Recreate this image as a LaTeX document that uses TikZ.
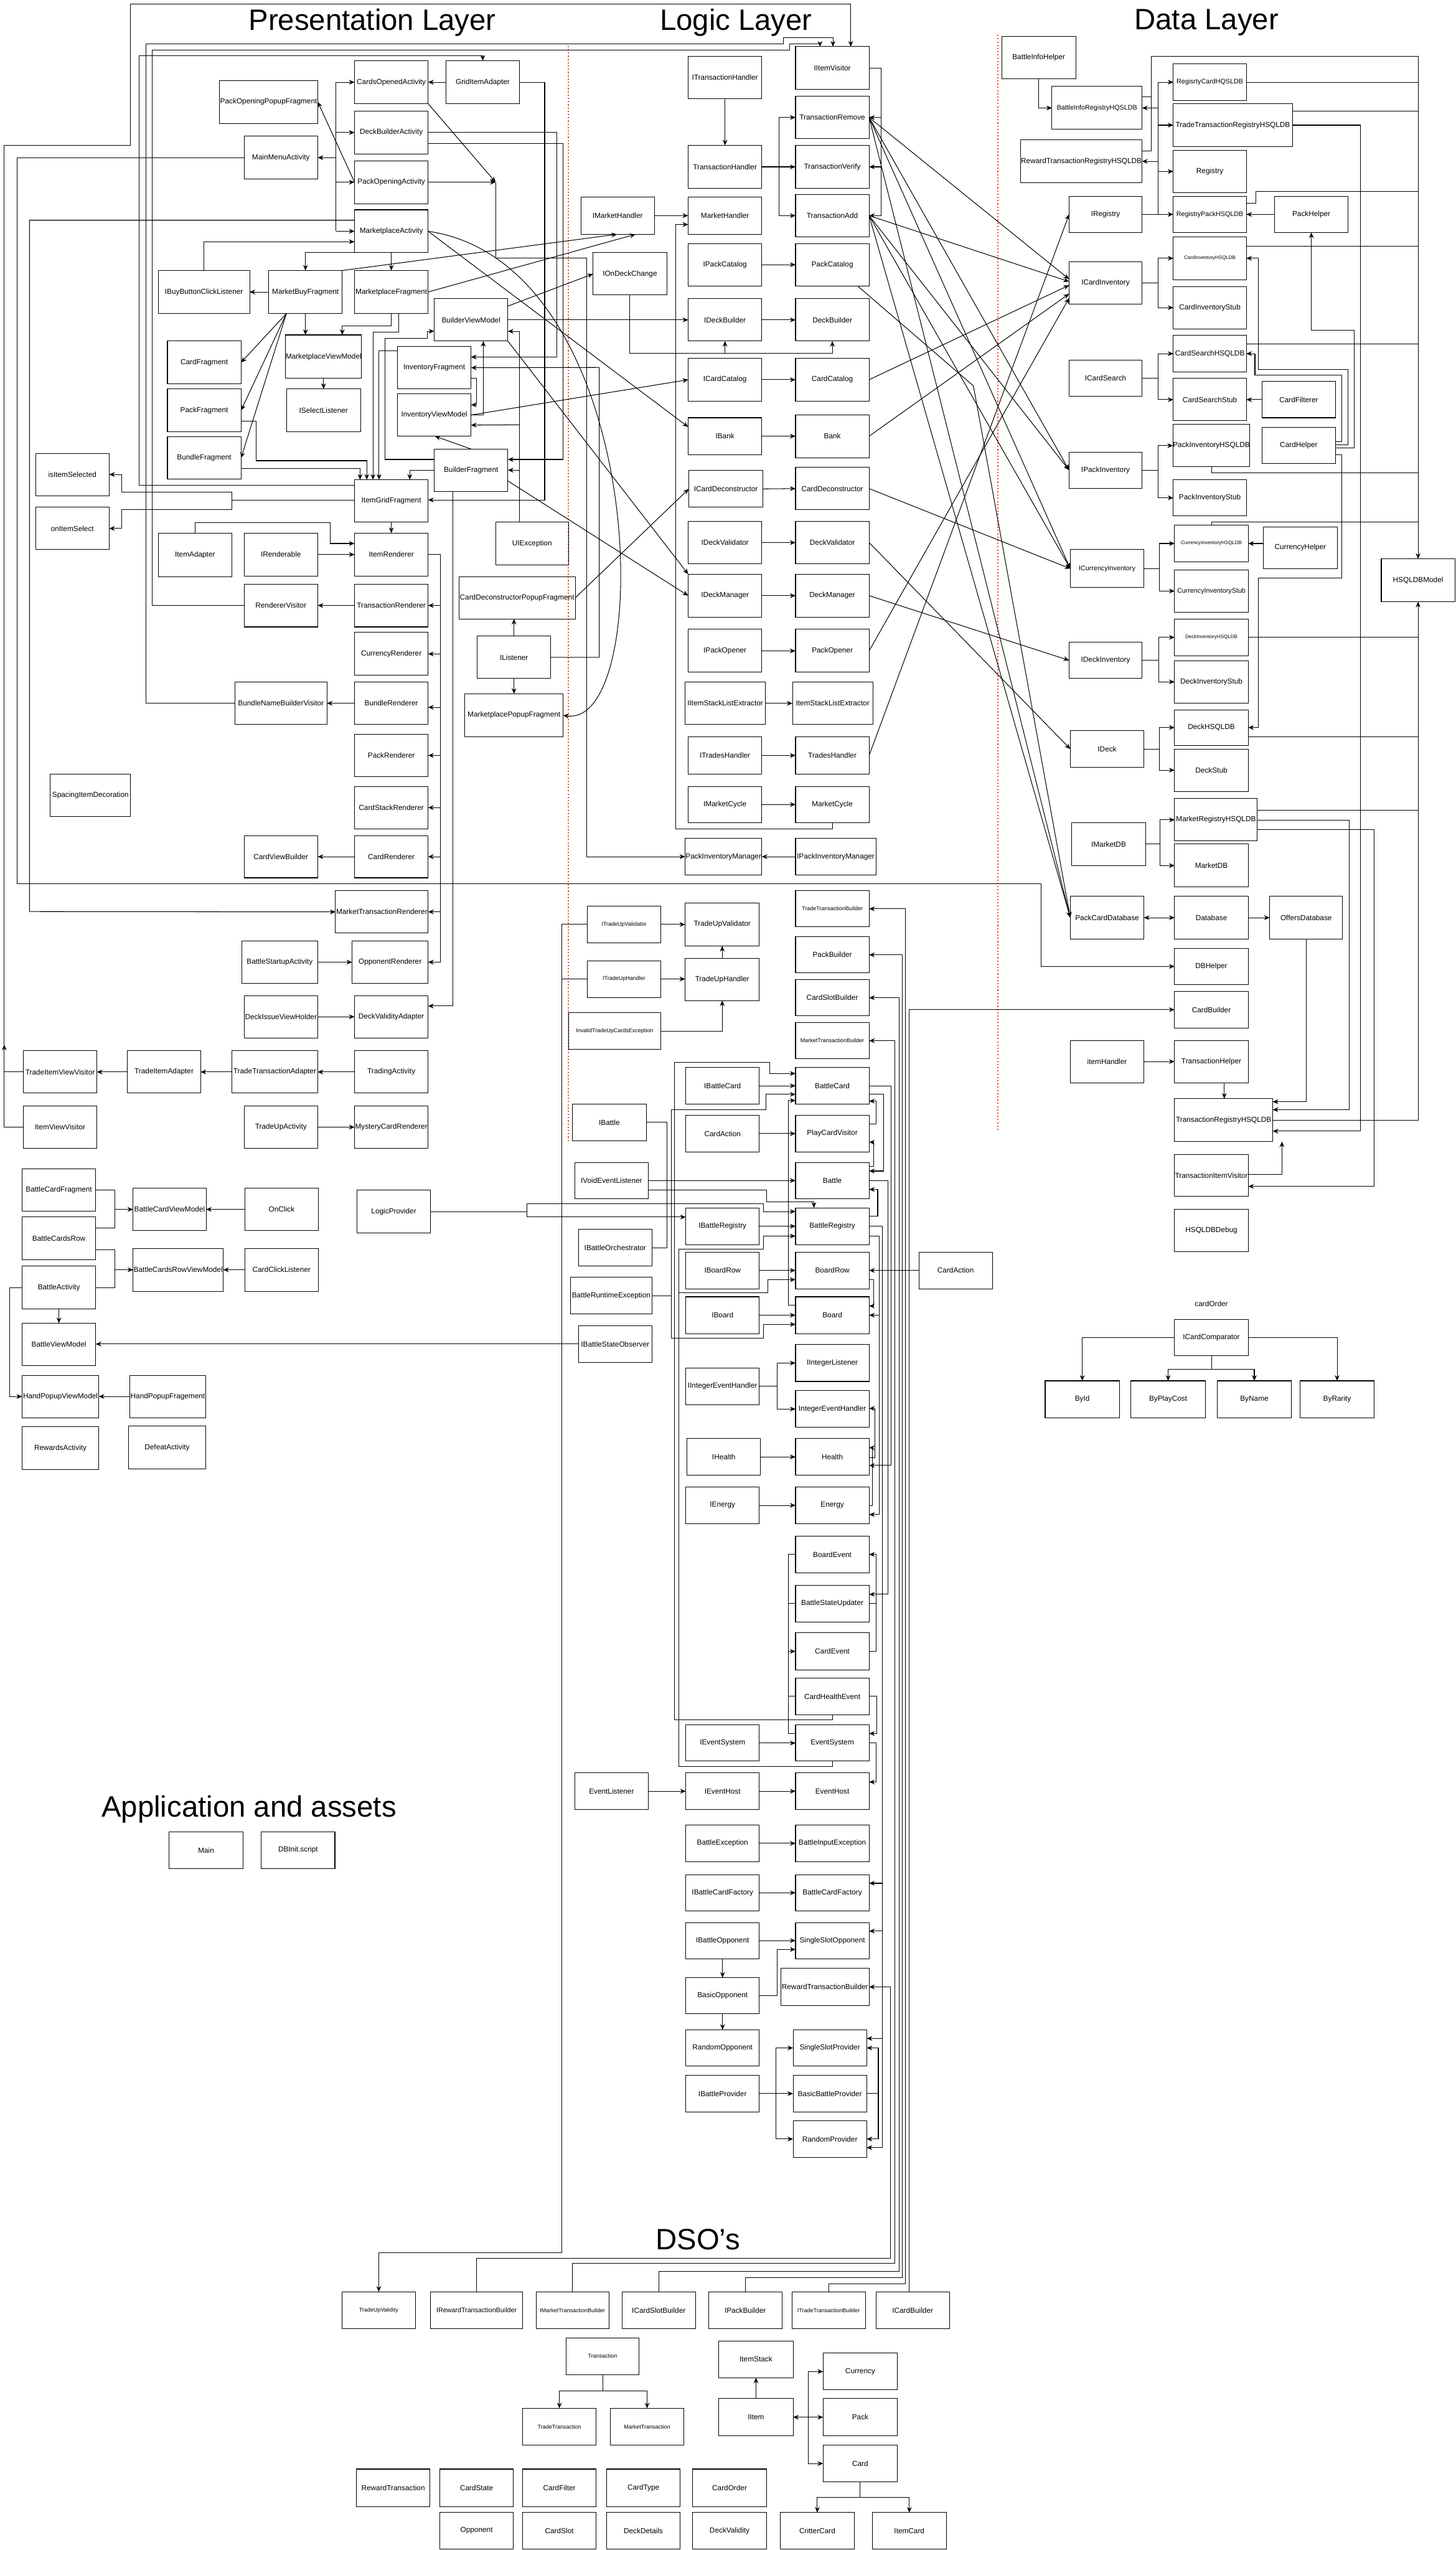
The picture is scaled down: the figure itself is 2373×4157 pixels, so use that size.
\documentclass[tikz,border=0pt]{standalone}
\usepackage{fontspec}
\setmainfont{Liberation Sans}
\usetikzlibrary{arrows.meta}
\definecolor{dotred}{RGB}{240,80,40}
\newcommand\fs{\fontsize{3.41pt}{4pt}\selectfont}
\newcommand\fsm{\fontsize{3.1pt}{3.6pt}\selectfont}
\newcommand\fss{\fontsize{2.6pt}{3pt}\selectfont}
\newcommand\fsx{\fontsize{2.3pt}{2.8pt}\selectfont}
\newcommand\fst{\fontsize{13.66pt}{16pt}\selectfont}
\newcommand\mybox[7][]{\node[box,#1,minimum width={(#5-#3)*0.01cm},minimum height={(#6-#4)*0.01cm}] (#2) at ({(#3+#5)/2},{(#4+#6)/2}) {#7};}
\newcommand\fork[4]{%
 \draw[ln] (#1.east) -- ++(#2,0) coordinate (fk);
 \draw[ln] (fk |- #3.west) -- (fk |- #4.west);
 \draw[ar] (fk |- #3.west) -- (#3.west);
 \draw[ar] (fk |- #4.west) -- (#4.west);}
\begin{document}
\begin{tikzpicture}[x=0.01cm,y=-0.01cm,
 box/.style={draw,line width=0.3pt,inner sep=0pt,outer sep=0pt,font=\fs,align=center},
 ln/.style={line width=0.3pt},
 ar/.style={ln,-{Stealth[length=2.6pt,width=2.2pt]}},
 ar2/.style={ln,{Stealth[length=2.6pt,width=2.2pt]}-{Stealth[length=2.6pt,width=2.2pt]}},
 rdot/.style={dotred,line width=0.6pt,dash pattern=on 0.6pt off 0.9pt}]
\fill[white] (0,0) rectangle (2373,4157);
\useasboundingbox (0,0) rectangle (2373,4157);

% titles
\node[font=\fst] (tPres) at (607,37) {Presentation Layer};
\node[font=\fst] (tLogic) at (1200,37) {Logic Layer};
\node[font=\fst] (tData) at (1967,37) {Data Layer};
\node[font=\fst] (tApp) at (406,2950) {Application and assets};
\node[font=\fst] (tDSO) at (1138,3651) {DSO's};

% separators
\draw[rdot] (927,75) -- (927,1860);
\draw[rdot] (1627,57) -- (1627,1844);

% ---------------- Presentation ----------------
\mybox{CardsOpenedActivity}{578}{99}{698}{169}{CardsOpenedActivity}
\mybox{GridItemAdapter}{727}{99}{847}{169}{GridItemAdapter}
\mybox{PackOpeningPopupFragment}{358}{131}{518}{201}{PackOpeningPopupFragment}
\mybox{DeckBuilderActivity}{578}{181}{698}{251}{DeckBuilderActivity}
\mybox{MainMenuActivity}{398}{222}{518}{292}{MainMenuActivity}
\mybox{PackOpeningActivity}{578}{262}{698}{332}{PackOpeningActivity}
\mybox{MarketplaceActivity}{578}{342}{698}{412}{MarketplaceActivity}
\mybox{IBuyButtonClickListener}{258}{441}{407}{511}{IBuyButtonClickListener}
\mybox{MarketBuyFragment}{438}{441}{558}{511}{MarketBuyFragment}
\mybox{MarketplaceFragment}{578}{441}{698}{511}{MarketplaceFragment}
\mybox{BuilderViewModel}{708}{487}{828}{556}{BuilderViewModel}
\mybox{CardFragment}{273}{556}{393}{626}{CardFragment}
\mybox{MarketplaceViewModel}{467}{546}{588}{617}{MarketplaceViewModel}
\mybox{InventoryFragment}{648}{565}{768}{634}{InventoryFragment}
\mybox{ISelectListener}{467}{634}{588}{704}{ISelectListener}
\mybox{PackFragment}{273}{634}{393}{704}{PackFragment}
\mybox{InventoryViewModel}{648}{642}{768}{711}{InventoryViewModel}
\mybox{BundleFragment}{273}{712}{393}{781}{BundleFragment}
\mybox{BuilderFragment}{708}{732}{828}{801}{BuilderFragment}
\mybox{isItemSelected}{58}{739}{178}{808}{isItemSelected}
\mybox{ItemGridFragment}{578}{782}{698}{851}{ItemGridFragment}
\mybox{onItemSelect}{58}{827}{178}{896}{onItemSelect}
\mybox{UIException}{808}{851}{927}{921}{UIException}
\mybox{ItemAdapter}{258}{869}{378}{940}{ItemAdapter}
\mybox{IRenderable}{398}{869}{518}{939}{IRenderable}
\mybox{ItemRenderer}{578}{869}{698}{939}{ItemRenderer}
\mybox{RendererVisitor}{398}{952}{518}{1022}{RendererVisitor}
\mybox{TransactionRenderer}{578}{952}{698}{1022}{TransactionRenderer}
\mybox{CurrencyRenderer}{578}{1031}{698}{1101}{CurrencyRenderer}
\mybox{CardDeconstructorPopupFragment}{748}{940}{938}{1009}{CardDeconstructorPopupFragment}
\mybox{IListener}{778}{1037}{898}{1106}{IListener}
\mybox{BundleNameBuilderVisitor}{383}{1112}{533}{1181}{BundleNameBuilderVisitor}
\mybox{BundleRenderer}{578}{1112}{698}{1181}{BundleRenderer}
\mybox{MarketplacePopupFragment}{758}{1131}{918}{1201}{MarketplacePopupFragment}
\mybox{PackRenderer}{578}{1197}{698}{1266}{PackRenderer}
\mybox{SpacingItemDecoration}{82}{1262}{213}{1331}{SpacingItemDecoration}
\mybox{CardStackRenderer}{578}{1282}{698}{1351}{CardStackRenderer}
\mybox{CardViewBuilder}{398}{1362}{518}{1431}{CardViewBuilder}
\mybox{CardRenderer}{578}{1362}{698}{1431}{CardRenderer}
\mybox{MarketTransactionRenderer}{547}{1452}{698}{1521}{MarketTransactionRenderer}
\mybox{BattleStartupActivity}{394}{1534}{518}{1603}{BattleStartupActivity}
\mybox{OpponentRenderer}{574}{1534}{698}{1603}{OpponentRenderer}
\mybox{DeckIssueViewHolder}{398}{1623}{518}{1692}{DeckIssueViewHolder}
\mybox{DeckValidityAdapter}{578}{1623}{698}{1692}{DeckValidityAdapter}
\mybox{TradeItemViewVisitor}{38}{1713}{158}{1782}{TradeItemViewVisitor}
\mybox{TradeItemAdapter}{208}{1713}{327}{1782}{TradeItemAdapter}
\mybox{TradeTransactionAdapter}{378}{1713}{518}{1782}{TradeTransactionAdapter}
\mybox{TradingActivity}{578}{1713}{698}{1782}{TradingActivity}
\mybox{ItemViewVisitor}{38}{1803}{158}{1872}{ItemViewVisitor}
\mybox{TradeUpActivity}{398}{1803}{518}{1872}{TradeUpActivity}
\mybox{MysteryCardRenderer}{578}{1803}{698}{1872}{MysteryCardRenderer}
\mybox{BattleCardFragment}{36}{1905}{156}{1974}{BattleCardFragment}
\mybox{BattleCardViewModel}{217}{1937}{336}{2006}{BattleCardViewModel}
\mybox{OnClick}{399}{1937}{519}{2006}{OnClick}
\mybox{LogicProvider}{582}{1940}{702}{2010}{LogicProvider}
\mybox{BattleCardsRow}{36}{1984}{156}{2054}{BattleCardsRow}
\mybox{BattleCardsRowViewModel}{217}{2035}{364}{2105}{BattleCardsRowViewModel}
\mybox{CardClickListener}{399}{2035}{519}{2105}{CardClickListener}
\mybox{BattleActivity}{36}{2064}{156}{2134}{BattleActivity}
\mybox{BattleViewModel}{36}{2157}{156}{2226}{BattleViewModel}
\mybox{HandPopupViewModel}{36}{2242}{161}{2311}{HandPopupViewModel}
\mybox{HandPopupFragement}{212}{2242}{335}{2311}{HandPopupFragement}
\mybox{RewardsActivity}{36}{2326}{161}{2396}{RewardsActivity}
\mybox{DefeatActivity}{210}{2325}{335}{2395}{DefeatActivity}
\mybox{Main}{276}{2986}{396}{3046}{Main}
\mybox{DBInit}{426}{2986}{546}{3046}{DBInit.script}

% ---------------- Logic ----------------
\mybox{IItemVisitor}{1297}{76}{1417}{146}{IItemVisitor}
\mybox{ITransactionHandler}{1122}{92}{1242}{161}{ITransactionHandler}
\mybox{TransactionRemove}{1297}{157}{1417}{226}{TransactionRemove}
\mybox{TransactionHandler}{1122}{237}{1242}{307}{TransactionHandler}
\mybox{TransactionVerify}{1297}{237}{1417}{307}{TransactionVerify}
\mybox{IMarketHandler}{947}{321}{1067}{382}{IMarketHandler}
\mybox{MarketHandler}{1122}{321}{1242}{382}{MarketHandler}
\mybox{TransactionAdd}{1297}{317}{1417}{386}{TransactionAdd}
\mybox{IOnDeckChange}{967}{412}{1087}{481}{IOnDeckChange}
\mybox{IPackCatalog}{1122}{397}{1242}{466}{IPackCatalog}
\mybox{PackCatalog}{1297}{397}{1417}{466}{PackCatalog}
\mybox{IDeckBuilder}{1122}{487}{1242}{556}{IDeckBuilder}
\mybox{DeckBuilder}{1297}{487}{1417}{556}{DeckBuilder}
\mybox{ICardCatalog}{1122}{584}{1242}{654}{ICardCatalog}
\mybox{CardCatalog}{1297}{584}{1417}{654}{CardCatalog}
\mybox{IBank}{1122}{681}{1242}{741}{IBank}
\mybox{Bank}{1297}{676}{1417}{746}{Bank}
\mybox{ICardDeconstructor}{1123}{767}{1244}{827}{ICardDeconstructor}
\mybox{CardDeconstructor}{1297}{762}{1417}{831}{CardDeconstructor}
\mybox{IDeckValidator}{1122}{850}{1242}{919}{IDeckValidator}
\mybox{DeckValidator}{1297}{850}{1417}{919}{DeckValidator}
\mybox{IDeckManager}{1122}{936}{1242}{1006}{IDeckManager}
\mybox{DeckManager}{1297}{936}{1417}{1006}{DeckManager}
\mybox{IPackOpener}{1122}{1026}{1242}{1096}{IPackOpener}
\mybox{PackOpener}{1297}{1026}{1417}{1096}{PackOpener}
\mybox{IItemStackListExtractor}{1117}{1112}{1248}{1181}{IItemStackListExtractor}
\mybox{ItemStackListExtractor}{1292}{1112}{1423}{1181}{ItemStackListExtractor}
\mybox{ITradesHandler}{1122}{1201}{1242}{1262}{ITradesHandler}
\mybox{TradesHandler}{1297}{1201}{1417}{1262}{TradesHandler}
\mybox{IMarketCycle}{1122}{1282}{1242}{1341}{IMarketCycle}
\mybox{MarketCycle}{1297}{1282}{1417}{1341}{MarketCycle}
\mybox{PackInventoryManager}{1117}{1367}{1242}{1426}{PackInventoryManager}
\mybox{IPackInventoryManager}{1297}{1367}{1428}{1426}{IPackInventoryManager}
\mybox[font=\fss]{ITradeUpValidator}{958}{1477}{1077}{1537}{ITradeUpValidator}
\mybox{TradeUpValidator}{1117}{1472}{1238}{1542}{TradeUpValidator}
\mybox[font=\fss]{TradeTransactionBuilder}{1297}{1452}{1417}{1511}{TradeTransactionBuilder}
\mybox{PackBuilder}{1297}{1527}{1417}{1586}{PackBuilder}
\mybox[font=\fss]{ITradeUpHandler}{958}{1566}{1077}{1626}{ITradeUpHandler}
\mybox{TradeUpHandler}{1117}{1562}{1238}{1631}{TradeUpHandler}
\mybox{CardSlotBuilder}{1297}{1597}{1417}{1656}{CardSlotBuilder}
\mybox[font=\fss]{InvalidTradeUpCardsException}{927}{1651}{1077}{1711}{InvalidTradeUpCardsException}
\mybox[font=\fss]{MarketTransactionBuilder}{1297}{1667}{1417}{1726}{MarketTransactionBuilder}
\mybox{IBattleCard}{1118}{1740}{1238}{1800}{IBattleCard}
\mybox{BattleCard}{1297}{1740}{1417}{1800}{BattleCard}
\mybox{IBattle}{933}{1800}{1054}{1860}{IBattle}
\mybox{CardActionA}{1118}{1818}{1238}{1878}{CardAction}
\mybox{PlayCardVisitor}{1297}{1818}{1417}{1878}{PlayCardVisitor}
\mybox{IVoidEventListener}{937}{1895}{1057}{1954}{IVoidEventListener}
\mybox{Battle}{1297}{1895}{1417}{1954}{Battle}
\mybox{IBattleRegistry}{1118}{1969}{1238}{2029}{IBattleRegistry}
\mybox{BattleRegistry}{1297}{1969}{1417}{2029}{BattleRegistry}
\mybox{IBattleOrchestrator}{943}{2004}{1063}{2064}{IBattleOrchestrator}
\mybox{IBoardRow}{1118}{2041}{1238}{2101}{IBoardRow}
\mybox{BoardRow}{1297}{2041}{1417}{2101}{BoardRow}
\mybox{CardActionB}{1498}{2041}{1618}{2101}{CardAction}
\mybox{BattleRuntimeException}{930}{2082}{1063}{2142}{BattleRuntimeException}
\mybox{IBoard}{1118}{2114}{1238}{2174}{IBoard}
\mybox{Board}{1297}{2114}{1417}{2174}{Board}
\mybox{IBattleStateObserver}{943}{2161}{1063}{2221}{IBattleStateObserver}
\mybox{IIntegerListener}{1297}{2192}{1417}{2252}{IIntegerListener}
\mybox{IIntegerEventHandler}{1118}{2230}{1238}{2290}{IIntegerEventHandler}
\mybox{IntegerEventHandler}{1297}{2267}{1417}{2327}{IntegerEventHandler}
\mybox{IHealth}{1120}{2345}{1240}{2405}{IHealth}
\mybox{Health}{1297}{2345}{1417}{2405}{Health}
\mybox{IEnergy}{1118}{2424}{1238}{2484}{IEnergy}
\mybox{Energy}{1297}{2424}{1417}{2484}{Energy}
\mybox{BoardEvent}{1297}{2504}{1417}{2564}{BoardEvent}
\mybox{BattleStateUpdater}{1297}{2584}{1417}{2644}{BattleStateUpdater}
\mybox{CardEvent}{1297}{2662}{1417}{2722}{CardEvent}
\mybox{CardHealthEvent}{1297}{2736}{1417}{2795}{CardHealthEvent}
\mybox{IEventSystem}{1118}{2812}{1238}{2871}{IEventSystem}
\mybox{EventSystem}{1297}{2812}{1417}{2871}{EventSystem}
\mybox{EventListener}{937}{2890}{1057}{2950}{EventListener}
\mybox{IEventHost}{1118}{2890}{1238}{2950}{IEventHost}
\mybox{EventHost}{1297}{2890}{1417}{2950}{EventHost}
\mybox{BattleException}{1118}{2975}{1238}{3035}{BattleException}
\mybox{BattleInputException}{1297}{2975}{1417}{3035}{BattleInputException}
\mybox{IBattleCardFactory}{1118}{3056}{1238}{3115}{IBattleCardFactory}
\mybox{BattleCardFactory}{1297}{3056}{1417}{3115}{BattleCardFactory}
\mybox{IBattleOpponent}{1118}{3134}{1238}{3193}{IBattleOpponent}
\mybox{SingleSlotOpponent}{1297}{3134}{1417}{3193}{SingleSlotOpponent}
\mybox{BasicOpponent}{1118}{3224}{1238}{3283}{BasicOpponent}
\mybox{RewardTransactionBuilder}{1273}{3209}{1417}{3269}{RewardTransactionBuilder}
\mybox{RandomOpponent}{1118}{3309}{1238}{3368}{RandomOpponent}
\mybox{SingleSlotProvider}{1293}{3309}{1413}{3368}{SingleSlotProvider}
\mybox{IBattleProvider}{1118}{3383}{1238}{3443}{IBattleProvider}
\mybox{BasicBattleProvider}{1293}{3383}{1413}{3443}{BasicBattleProvider}
\mybox{RandomProvider}{1293}{3457}{1413}{3517}{RandomProvider}

% ---------------- Data ----------------
\mybox{BattleInfoHelper}{1633}{59}{1754}{128}{BattleInfoHelper}
\mybox[font=\fsm]{RegisrtyCardHQSLDB}{1913}{104}{2032}{164}{RegisrtyCardHQSLDB}
\mybox[font=\fsm]{BattleInfoRegistryHQSLDB}{1715}{141}{1862}{211}{BattleInfoRegistryHQSLDB}
\mybox{TradeTransactionRegistryHSQLDB}{1913}{169}{2107}{239}{TradeTransactionRegistryHSQLDB}
\mybox{RewardTransactionRegistryHSQLDB}{1664}{228}{1862}{298}{RewardTransactionRegistryHSQLDB}
\mybox{Registry}{1913}{245}{2032}{314}{Registry}
\mybox{IRegistry}{1743}{320}{1862}{379}{IRegistry}
\mybox[font=\fsm]{RegistryPackHSQLDB}{1913}{320}{2032}{379}{RegistryPackHSQLDB}
\mybox{PackHelper}{2078}{320}{2198}{379}{PackHelper}
\mybox[font=\fsx]{CardInventoryHSQLDB}{1913}{386}{2032}{456}{CardInventoryHSQLDB}
\mybox{ICardInventory}{1743}{427}{1862}{496}{ICardInventory}
\mybox{CardInventoryStub}{1913}{467}{2032}{536}{CardInventoryStub}
\mybox{CardSearchHSQLDB}{1913}{547}{2032}{606}{CardSearchHSQLDB}
\mybox{ICardSearch}{1743}{587}{1862}{646}{ICardSearch}
\mybox{CardSearchStub}{1913}{617}{2032}{686}{CardSearchStub}
\mybox{CardFilterer}{2058}{622}{2177}{681}{CardFilterer}
\mybox{PackInventoryHSQLDB}{1913}{692}{2037}{761}{PackInventoryHSQLDB}
\mybox{CardHelper}{2058}{697}{2177}{756}{CardHelper}
\mybox{IPackInventory}{1743}{737}{1862}{796}{IPackInventory}
\mybox{PackInventoryStub}{1913}{782}{2032}{841}{PackInventoryStub}
\mybox[font=\fsx]{CurrencyInventoryHSQLDB}{1915}{856}{2035}{916}{CurrencyInventoryHSQLDB}
\mybox{CurrencyHelper}{2060}{859}{2180}{927}{CurrencyHelper}
\mybox[font=\fsm]{ICurrencyInventory}{1745}{896}{1865}{958}{ICurrencyInventory}
\mybox[font=\fsm]{CurrencyInventoryStub}{1915}{929}{2035}{998}{CurrencyInventoryStub}
\mybox{HSQLDBModel}{2252}{911}{2372}{981}{HSQLDBModel}
\mybox[font=\fsx]{DeckInventoryHSQLDB}{1915}{1009}{2035}{1069}{DeckInventoryHSQLDB}
\mybox{IDeckInventory}{1743}{1047}{1862}{1106}{IDeckInventory}
\mybox{DeckInventoryStub}{1915}{1077}{2035}{1146}{DeckInventoryStub}
\mybox{DeckHSQLDB}{1915}{1157}{2035}{1215}{DeckHSQLDB}
\mybox{IDeck}{1745}{1191}{1865}{1251}{IDeck}
\mybox{DeckStub}{1915}{1221}{2035}{1290}{DeckStub}
\mybox{MarketRegistryHSQLDB}{1915}{1302}{2050}{1371}{MarketRegistryHSQLDB}
\mybox{IMarketDB}{1747}{1341}{1868}{1411}{IMarketDB}
\mybox{MarketDB}{1915}{1376}{2035}{1446}{MarketDB}
\mybox{PackCardDatabase}{1745}{1461}{1865}{1531}{PackCardDatabase}
\mybox{Database}{1915}{1461}{2035}{1531}{Database}
\mybox{OffersDatabase}{2070}{1461}{2189}{1531}{OffersDatabase}
\mybox{DBHelper}{1915}{1546}{2035}{1605}{DBHelper}
\mybox{CardBuilder}{1915}{1616}{2035}{1676}{CardBuilder}
\mybox{itemHandler}{1745}{1696}{1865}{1765}{itemHandler}
\mybox{TransactionHelper}{1915}{1696}{2035}{1765}{TransactionHelper}
\mybox{TransactionRegistryHSQLDB}{1915}{1791}{2075}{1861}{TransactionRegistryHSQLDB}
\mybox{TransactionItemVisitor}{1915}{1882}{2035}{1950}{TransactionItemVisitor}
\mybox{HSQLDBDebug}{1915}{1971}{2035}{2040}{HSQLDBDebug}
\node[font=\fs] (cardOrderLbl) at (1975,2125) {cardOrder};
\mybox{ICardComparator}{1915}{2151}{2035}{2210}{ICardComparator}
\mybox{ById}{1704}{2251}{1825}{2311}{ById}
\mybox{ByPlayCost}{1844}{2251}{1965}{2311}{ByPlayCost}
\mybox{ByName}{1985}{2251}{2105}{2311}{ByName}
\mybox{ByRarity}{2120}{2251}{2240}{2311}{ByRarity}

% ---------------- DSO ----------------
\mybox[font=\fss]{TradeUpValidity}{558}{3736}{677}{3796}{TradeUpValidity}
\mybox[font=\fsm]{IRewardTransactionBuilder}{702}{3736}{852}{3796}{IRewardTransactionBuilder}
\mybox[font=\fss]{IMarketTransactionBuilder}{874}{3736}{993}{3796}{IMarketTransactionBuilder}
\mybox{ICardSlotBuilder}{1014}{3736}{1134}{3796}{ICardSlotBuilder}
\mybox{IPackBuilder}{1155}{3736}{1275}{3796}{IPackBuilder}
\mybox[font=\fss]{ITradeTransactionBuilder}{1291}{3736}{1411}{3796}{ITradeTransactionBuilder}
\mybox{ICardBuilder}{1428}{3736}{1548}{3796}{ICardBuilder}
\mybox[font=\fss]{Transaction}{923}{3811}{1042}{3871}{Transaction}
\mybox{ItemStack}{1172}{3816}{1293}{3876}{ItemStack}
\mybox{Currency}{1342}{3836}{1463}{3896}{Currency}
\mybox{IItem}{1172}{3910}{1293}{3971}{IItem}
\mybox{Pack}{1342}{3910}{1463}{3971}{Pack}
\mybox[font=\fss]{TradeTransaction}{852}{3926}{972}{3986}{TradeTransaction}
\mybox[font=\fss]{MarketTransaction}{995}{3926}{1115}{3986}{MarketTransaction}
\mybox{Card}{1342}{3986}{1463}{4046}{Card}
\mybox{RewardTransaction}{581}{4025}{701}{4086}{RewardTransaction}
\mybox{CardState}{717}{4025}{837}{4086}{CardState}
\mybox{CardFilter}{852}{4025}{972}{4086}{CardFilter}
\mybox{CardType}{989}{4025}{1109}{4086}{CardType}
\mybox{CardOrder}{1129}{4025}{1250}{4086}{CardOrder}
\mybox{Opponent}{717}{4096}{837}{4155}{Opponent}
\mybox{CardSlot}{852}{4096}{972}{4155}{CardSlot}
\mybox{DeckDetails}{989}{4096}{1109}{4155}{DeckDetails}
\mybox{DeckValidity}{1129}{4096}{1250}{4155}{DeckValidity}
\mybox{CritterCard}{1272}{4096}{1393}{4155}{CritterCard}
\mybox{ItemCard}{1422}{4096}{1543}{4155}{ItemCard}

% ================= connectors: presentation =================
\draw[ar] (ItemViewVisitor.west) -| (7,237) -| (213,7) -| (IItemVisitor.north -| 1387,0);
\draw[ln] (TradeItemViewVisitor.west) -- (TradeItemViewVisitor.west -| 7,0);
\draw[ar] (7,1745) -- (7,1703);
\draw[ar] (BundleNameBuilderVisitor.west) -| (238,72) -- (1277,72) -- (1277,61) -| (IItemVisitor.north -| 1358,0);
\draw[ar] (RendererVisitor.west) -| (248,82) -- (1287,82) -- (1287,72) -| (IItemVisitor.north -| 1337,0);
\draw[ar] (ItemGridFragment.west |- 0,791) -| (227,91) -| (GridItemAdapter.north);
\draw[ar] (GridItemAdapter.west) -- (CardsOpenedActivity.east);
\draw[ar] (GridItemAdapter.east) -| (888,815) -- (ItemGridFragment.east |- 0,815);
\draw[ln] (CardsOpenedActivity.west -| 548,0) -- (MarketplaceActivity.west -| 548,0);
\draw[ar] (CardsOpenedActivity.west -| 548,0) -- (CardsOpenedActivity.west);
\draw[ar] (DeckBuilderActivity.west -| 548,0) -- (DeckBuilderActivity.west);
\draw[ar] (PackOpeningActivity.west -| 548,0) -- (PackOpeningActivity.west);
\draw[ar] (MarketplaceActivity.west -| 548,0) -- (MarketplaceActivity.west);
\draw[ar] (MainMenuActivity.east -| 548,0) -- (MainMenuActivity.east);
\draw[ar] (MainMenuActivity.west) -| (28,1441) -- (1697,1441) |- (DBHelper.west);
\draw[ar] (MarketplaceActivity.west |- 0,359) -| (48,1486) -- (MarketTransactionRenderer.west);
\draw[ar] (PackOpeningActivity.west) -- (PackOpeningPopupFragment.east);
\draw[ar] (CardsOpenedActivity.south east) -- (808,297);
\draw[ar] (PackOpeningActivity.east) -- (808,297);
\draw[ar] (808,297) -- (808,421) -- (957,421) |- (PackInventoryManager.west);
\draw[ar] (DeckBuilderActivity.east) -| (908,582) -- (InventoryFragment.east |- 0,582);
\draw[ar] (DeckBuilderActivity.east |- 0,234) -| (918,749) -- (BuilderFragment.east |- 0,749);
\draw[ar] (IBuyButtonClickListener.north) |- (MarketplaceActivity.west |- 0,394);
\draw[ar] (MarketplaceActivity.south) -| (MarketBuyFragment.north);
\draw[ar] (MarketplaceActivity.south) -- (MarketplaceFragment.north);
\draw[ar] (MarketBuyFragment.west) -- (IBuyButtonClickListener.east);
\draw[ar] (MarketBuyFragment.south) -- (MarketBuyFragment.south |- MarketplaceViewModel.north);
\draw[ar] (MarketplaceFragment.south) -- (638,531) -| (MarketplaceViewModel.north -| 558,0);
\draw[ar] (MarketplaceFragment.south -| 650,0) -- (650,541) -| (ItemGridFragment.north -| 608,0);
\draw[ar] (MarketBuyFragment.south -| 467,0) -- (CardFragment.east);
\draw[ar] (MarketBuyFragment.south -| 467,0) -- (PackFragment.east);
\draw[ar] (MarketBuyFragment.south -| 467,0) -- (BundleFragment.east);
\draw[ar] (MarketplaceViewModel.south) -- (ISelectListener.north);
\draw[ar] (PackFragment.east |- 0,687) -| (418,751) -| (ItemGridFragment.north -| 598,0);
\draw[ar] (BundleFragment.east |- 0,764) -| (ItemGridFragment.north -| 587,0);
\draw[ar] (InventoryFragment.west |- 0,572) -| (ItemGridFragment.north -| 618,0);
\draw[ar] (BuilderFragment.west |- 0,749) -| (628,552) -| (697,540) -- (BuilderViewModel.west |- 0,540);
\draw[ar] (BuilderFragment.west |- 0,767) -| (ItemGridFragment.north -| 668,0);
\draw[ar] (InventoryFragment.east |- 0,617) -| (777,660) -- (InventoryViewModel.east |- 0,660);
\draw[ar] (InventoryViewModel.east |- 0,676) -| (BuilderViewModel.south -| 788,0);
\draw[ar] (BuilderFragment.north) -- (InventoryViewModel.south -| 709,0);
\draw[ar] (UIException.north -| 847,0) |- (BuilderViewModel.east |- 0,540);
\draw[ar] (InventoryViewModel.east -| 847,0) ++(0,16) -- (InventoryViewModel.east |- 0,693);
\draw[ar] (BuilderFragment.east -| 847,0) -- (BuilderFragment.east);
\draw[ar] (IListener.east) -| (977,599) -- (InventoryFragment.east);
\draw[ar] (BuilderViewModel.east) -- (IDeckBuilder.west);
\draw[ar] (BuilderViewModel.east |- 0,499) -- (IOnDeckChange.west);
\draw[ar] (MarketBuyFragment.north east) -- (IMarketHandler.south -| 1006,0);
\draw[ar] (MarketplaceFragment.east) -- (IMarketHandler.south -| 1036,0);
\draw[ar] (InventoryViewModel.east) -- (ICardCatalog.west);
\draw[ar] (MarketplaceActivity.east) -- (IBank.west |- 0,696);
\draw[ar] (BuilderViewModel.south east) -- (IDeckManager.north west);
\draw[ar] (BuilderFragment.east |- 0,784) -- (IDeckManager.west);
\draw[ar] (CardDeconstructorPopupFragment.east) -- (ICardDeconstructor.west);
\draw[ar] (MarketplaceActivity.east) .. controls (1060,430) and (1070,1190) .. (MarketplacePopupFragment.east);
\draw[ar] (IRenderable.east) -- (ItemRenderer.west);
\draw[ar] (ItemAdapter.north) |- (538,852) |- (ItemRenderer.west |- 0,886);
\draw[ar] (ItemGridFragment.south) -- (ItemRenderer.north);
\draw[ln] (ItemGridFragment.west |- 0,815) -- (378,815);
\draw[ar] (378,815) -- (378,802) -| (198,773.5) -- (isItemSelected.east);
\draw[ar] (378,815) -- (378,831) -| (198,861.5) -- (onItemSelect.east);
\draw[ln] (ItemRenderer.east) -| (718,1569);
\draw[ar] (TransactionRenderer.east -| 718,0) -- (TransactionRenderer.east);
\draw[ar] (CurrencyRenderer.east -| 718,0) -- (CurrencyRenderer.east);
\draw[ar] (718,1153) -- (BundleRenderer.east |- 0,1153);
\draw[ar] (PackRenderer.east -| 718,0) -- (PackRenderer.east);
\draw[ar] (CardStackRenderer.east -| 718,0) -- (CardStackRenderer.east);
\draw[ar] (CardRenderer.east -| 718,0) -- (CardRenderer.east);
\draw[ar] (MarketTransactionRenderer.east -| 718,0) -- (MarketTransactionRenderer.east);
\draw[ar] (OpponentRenderer.east -| 718,0) -- (OpponentRenderer.east);
\draw[ar] (BuilderFragment.south -| 738,0) |- (DeckValidityAdapter.east |- 0,1640);
\draw[ar] (TransactionRenderer.west) -- (RendererVisitor.east);
\draw[ar] (BundleRenderer.west) -- (BundleNameBuilderVisitor.east);
\draw[ar] (CardRenderer.west) -- (CardViewBuilder.east);
\draw[ar] (IListener.north) -- (CardDeconstructorPopupFragment.south -| IListener.north);
\draw[ar] (IListener.south) -- (MarketplacePopupFragment.north -| IListener.south);
\draw[ar] (BattleStartupActivity.east) -- (OpponentRenderer.west);
\draw[ar] (DeckIssueViewHolder.east) -- (DeckValidityAdapter.west);
\draw[ar] (TradingActivity.west) -- (TradeTransactionAdapter.east);
\draw[ar] (TradeTransactionAdapter.west) -- (TradeItemAdapter.east);
\draw[ar] (TradeItemAdapter.west) -- (TradeItemViewVisitor.east);
\draw[ar] (TradeUpActivity.east) -- (MysteryCardRenderer.west);
\draw[ln] (BattleCardFragment.east) -| (187,2002) -- (BattleCardsRow.east |- 0,2002);
\draw[ar] (BattleCardViewModel.west -| 187,0) -- (BattleCardViewModel.west);
\draw[ln] (BattleCardsRow.east |- 0,2037) -| (187,2099) -- (BattleActivity.east);
\draw[ar] (BattleCardsRowViewModel.west -| 187,0) -- (BattleCardsRowViewModel.west);
\draw[ar] (OnClick.west) -- (BattleCardViewModel.east);
\draw[ar] (CardClickListener.west) -- (BattleCardsRowViewModel.east);
\draw[ar] (BattleActivity.south) -- (BattleViewModel.north);
\draw[ar] (BattleActivity.west) -| (16,2276.5) -- (HandPopupViewModel.west);
\draw[ar] (HandPopupFragement.west) -- (HandPopupViewModel.east);
\draw[ar] (IBattleStateObserver.west) -- (BattleViewModel.east |- IBattleStateObserver.west);

% ================= connectors: logic =================
\draw[ln] (IOnDeckChange.south) |- (DeckBuilder.south |- 0,576);
\draw[ar] (IDeckBuilder.south |- 0,576) -- (IDeckBuilder.south);
\draw[ar] (DeckBuilder.south |- 0,576) -- (DeckBuilder.south);
\draw[ar] (MarketCycle.south) -- ++(0,10) -| (1102,366) -- (MarketHandler.west |- 0,366);
\draw[ar] (ITransactionHandler.south) -- (TransactionHandler.north);
\draw[ar] (TransactionHandler.east) -- (TransactionVerify.west);
\draw[ln] (TransactionRemove.west -| 1270,0) -- (TransactionAdd.west -| 1270,0);
\draw[ar] (TransactionRemove.west -| 1270,0) -- (TransactionRemove.west);
\draw[ar] (TransactionAdd.west -| 1270,0) -- (TransactionAdd.west);
\draw[ln] (IItemVisitor.east) -| (TransactionAdd.east -| 1437,0);
\draw[ar] (TransactionRemove.east -| 1437,0) -- (TransactionRemove.east);
\draw[ar] (TransactionVerify.east -| 1437,0) -- (TransactionVerify.east);
\draw[ar] (TransactionAdd.east -| 1437,0) -- (TransactionAdd.east);
\draw[ar] (IMarketHandler.east) -- (MarketHandler.west);
\draw[ar] (IPackCatalog.east) -- (PackCatalog.west);
\draw[ar] (IDeckBuilder.east) -- (DeckBuilder.west);
\draw[ar] (ICardCatalog.east) -- (CardCatalog.west);
\draw[ar] (IBank.east) -- (Bank.west);
\draw[ar] (ICardDeconstructor.east) -- (CardDeconstructor.west);
\draw[ar] (IDeckValidator.east) -- (DeckValidator.west);
\draw[ar] (IDeckManager.east) -- (DeckManager.west);
\draw[ar] (IPackOpener.east) -- (PackOpener.west);
\draw[ar] (IItemStackListExtractor.east) -- (ItemStackListExtractor.west);
\draw[ar] (ITradesHandler.east) -- (TradesHandler.west);
\draw[ar] (IMarketCycle.east) -- (MarketCycle.west);
\draw[ar] (IPackInventoryManager.west) -- (PackInventoryManager.east);
% logic -> data
\draw[ar] (TransactionRemove.east) -- (ICardInventory.west |- 0,455);
\draw[ar] (TransactionRemove.east) -- (IPackInventory.west);
\draw[ar] (TransactionRemove.east) -- (ICurrencyInventory.west);
\draw[ar] (TransactionRemove.east) -- (PackCardDatabase.west);
\draw[ar] (TransactionAdd.east) -- (ICardInventory.west |- 0,459);
\draw[ar] (TransactionAdd.east) -- (IPackInventory.west);
\draw[ar] (TransactionAdd.east) -- (ICurrencyInventory.west);
\draw[ar] (TransactionAdd.east) -- (PackCardDatabase.west);
\draw[ar] (PackCatalog.south -| 1398,0) -- (1587,629) -- (PackCardDatabase.west);
\draw[ar] (CardCatalog.east) -- (ICardInventory.west |- 0,465);
\draw[ar] (Bank.east) -- (ICardInventory.west |- 0,479);
\draw[ar] (PackOpener.east) -- (ICardInventory.west |- 0,486);
\draw[ar] (TradesHandler.east) -- (IRegistry.west);
\draw[ar] (CardDeconstructor.east) -- (ICurrencyInventory.west);
\draw[ar] (DeckManager.east) -- (IDeckInventory.west);
\draw[ar] (DeckValidator.east) -- (IDeck.west);
% trade-up
\draw[ar] (ITradeUpValidator.east) -- (TradeUpValidator.west |- ITradeUpValidator.east);
\draw[ar] (ITradeUpHandler.east) -- (TradeUpHandler.west |- ITradeUpHandler.east);
\draw[ar] (TradeUpHandler.north) -- (TradeUpValidator.south);
\draw[ar] (InvalidTradeUpCardsException.east) -| (TradeUpHandler.south);
\draw[ar] (ITradeUpValidator.west) -| (916,3672) -| (TradeUpValidity.north);
\draw[ln] (ITradeUpHandler.west) -- (ITradeUpHandler.west -| 916,0);
% DSO builders
\draw[ar] (IRewardTransactionBuilder.north) |- (1452,3681) |- (RewardTransactionBuilder.east);
\draw[ar] (IMarketTransactionBuilder.north) |- (1459,3690) |- (MarketTransactionBuilder.east);
\draw[ar] (ICardSlotBuilder.north) |- (1466,3703) |- (CardSlotBuilder.east);
\draw[ar] (IPackBuilder.north) |- (1471,3713) |- (PackBuilder.east);
\draw[ar] (ITradeTransactionBuilder.north) |- (1476,3723) |- (TradeTransactionBuilder.east);
\draw[ar] (ICardBuilder.north -| 1482,0) |- (CardBuilder.west);
% battle
\draw[ar] (IBattleCard.east) -- (BattleCard.west |- IBattleCard.east);
\draw[ar] (CardActionA.east) -- (PlayCardVisitor.west);
\draw[ar] (IVoidEventListener.east) -- (Battle.west);
\draw[ar] (IVoidEventListener.east |- 0,1940) -| (1250,1959) -| (BattleRegistry.north -| 1327,0);
\draw[ln] (LogicProvider.east) -- (859,1975);
\draw[ar] (859,1975) |- (1245,1962) |- (BattleRegistry.west |- 0,1975);
\draw[ar] (859,1975) |- (IBattleRegistry.west |- 0,1984);
\draw[ar] (IBattleRegistry.east) -- (BattleRegistry.west);
\draw[ln] (IBattle.east |- 0,1829) -| (1087,2034) -- (IBattleOrchestrator.east |- 0,2034);
\draw[ln] (BattleRuntimeException.east) -- (1095,2112);
\draw[ar] (1095,2112) |- (1249,1809) |- (BattleCard.west |- 0,1784);
\draw[ar] (1095,2112) |- (1245,2181) |- (Board.west |- 0,2159);
\draw[ar] (IBoardRow.east) -- (BoardRow.west);
\draw[ar] (IBoard.east) -- (Board.west);
\draw[ar] (EventSystem.south) -- ++(0,9) -| (1107,2036) -| (1245,2015) -- (BattleRegistry.west |- 0,2015);
\draw[ar] (1107,2107) -| (1252,2086) -- (BoardRow.west |- 0,2086);
\draw[ar] (CardHealthEvent.south) -- ++(0,9) -| (1100,1732) -| (1255,1750) -- (BattleCard.west |- 0,1750);
\draw[ar] (Board.west |- 0,2128) -| (1285,1794) -- (BattleCard.west |- 0,1794);
\draw[ar] (BattleCard.east) -| (1453,2389) -- (Health.east |- 0,2389);
\draw[ar] (BattleCard.east |- 0,1784) -| (1441,1909) -- (Battle.east |- 0,1909);
\draw[ar] (PlayCardVisitor.east |- 0,1832) -| (1428,1795) -- (BattleCard.east |- 0,1795);
\draw[ar] (Battle.east |- 0,1901) -| (1424,1862) -- (PlayCardVisitor.east |- 0,1862);
\draw[ar] (Battle.east) -| (1448,2599) -- (BattleStateUpdater.east |- 0,2599);
\draw[ar] (BattleRegistry.east |- 0,1983) -| (1431,1939) -- (Battle.east |- 0,1939);
\draw[ar] (BattleRegistry.east) -| (1439,3501) -- (RandomProvider.east |- 0,3501);
\draw[ar] (1439,3070) -- (BattleCardFactory.east |- 0,3070);
\draw[ar] (1439,3148) -- (SingleSlotOpponent.east |- 0,3148);
\draw[ar] (1439,3323) -- (SingleSlotProvider.east |- 0,3323);
\draw[ar] (BattleRegistry.east |- 0,2015) -| (1434,2469) -- (Energy.east |- 0,2469);
\draw[ar] (Board.east -| 1434,0) -- (Board.east);
\draw[ar] (BoardRow.east |- 0,2086) -| (1424,2129) -- (Board.east |- 0,2129);
\draw[ar] (CardActionB.west) -- (BoardRow.east);
\draw[ln] (IIntegerEventHandler.east) -- (1267,2260);
\draw[ar] (1267,2260) |- (IIntegerListener.west);
\draw[ar] (1267,2260) |- (IntegerEventHandler.west);
\draw[ar] (Health.east |- 0,2376) -| (1426,2296) -- (IntegerEventHandler.east |- 0,2296);
\draw[ar] (Energy.east |- 0,2454) -| (1422,2360) -- (Health.east |- 0,2360);
\draw[ar] (IHealth.east) -- (Health.west |- IHealth.east);
\draw[ar] (IEnergy.east) -- (Energy.west);
\draw[ln] (EventSystem.west |- 0,2826) -| (1285,2534) -- (BoardEvent.west);
\draw[ln] (BattleStateUpdater.west) -- (BattleStateUpdater.west -| 1285,0);
\draw[ar] (CardEvent.west -| 1285,0) -- (CardEvent.west);
\draw[ln] (CardHealthEvent.west) -- (CardHealthEvent.west -| 1285,0);
\draw[ar] (CardEvent.east) -| (1428,2534) -- (BoardEvent.east);
\draw[ln] (BattleStateUpdater.east |- 0,2614) -- (1428,2614);
\draw[ar] (CardHealthEvent.east) -| (1429,2826) -- (EventSystem.east |- 0,2826);
\draw[ar] (EventSystem.east) -| (1428,2905) -- (EventHost.east |- 0,2905);
\draw[ar] (IEventSystem.east) -- (EventSystem.west);
\draw[ar] (EventListener.east) -- (IEventHost.west);
\draw[ar] (IEventHost.east) -- (EventHost.west);
\draw[ar] (BattleException.east) -- (BattleInputException.west);
\draw[ar] (IBattleCardFactory.east) -- (BattleCardFactory.west);
\draw[ar] (IBattleOpponent.east) -- (SingleSlotOpponent.west);
\draw[ar] (IBattleOpponent.south) -- (BasicOpponent.north);
\draw[ar] (BasicOpponent.east) -| (1267,3178) -- (SingleSlotOpponent.west |- 0,3178);
\draw[ar] (BasicOpponent.south) -- (RandomOpponent.north);
\draw[ar] (IBattleProvider.east) -- (BasicBattleProvider.west);
\draw[ln] (SingleSlotProvider.west -| 1265,0) -- (RandomProvider.west -| 1265,0);
\draw[ar] (SingleSlotProvider.west -| 1265,0) -- (SingleSlotProvider.west);
\draw[ar] (RandomProvider.west -| 1265,0) -- (RandomProvider.west);
\draw[ln] (BasicBattleProvider.east) -- (1432,3413);
\draw[ar] (1432,3413) |- (SingleSlotProvider.east);
\draw[ar] (1432,3413) |- (RandomProvider.east);

% ================= connectors: data =================
\draw[ar] (BattleInfoHelper.south) |- (BattleInfoRegistryHQSLDB.west);
\draw[ln] (IRegistry.east) -- (1888,349.5);
\draw[ln] (RegisrtyCardHQSLDB.west -| 1888,0) -- (RegistryPackHSQLDB.west -| 1888,0);
\draw[ar] (RegisrtyCardHQSLDB.west -| 1888,0) -- (RegisrtyCardHQSLDB.west);
\draw[ar] (TradeTransactionRegistryHSQLDB.west -| 1888,0) -- (TradeTransactionRegistryHSQLDB.west);
\draw[ar] (Registry.west -| 1888,0) -- (Registry.west);
\draw[ar] (RegistryPackHSQLDB.west -| 1888,0) -- (RegistryPackHSQLDB.west);
\draw[ar] (BattleInfoRegistryHQSLDB.east -| 1888,0) -- (BattleInfoRegistryHQSLDB.east);
\draw[ar] (RewardTransactionRegistryHSQLDB.east -| 1888,0) -- (RewardTransactionRegistryHSQLDB.east);
\fork{ICardInventory}{26}{CardInventoryHSQLDB}{CardInventoryStub}
\fork{ICardSearch}{26}{CardSearchHSQLDB}{CardSearchStub}
\fork{IPackInventory}{26}{PackInventoryHSQLDB}{PackInventoryStub}
\fork{ICurrencyInventory}{25}{CurrencyInventoryHSQLDB}{CurrencyInventoryStub}
\fork{IDeckInventory}{27}{DeckInventoryHSQLDB}{DeckInventoryStub}
\fork{IDeck}{25}{DeckHSQLDB}{DeckStub}
\fork{IMarketDB}{23}{MarketRegistryHSQLDB}{MarketDB}
\draw[ar] (PackHelper.west) -- (RegistryPackHSQLDB.east);
\draw[ar] (CardFilterer.west) -- (CardSearchStub.east |- CardFilterer.west);
\draw[ar] (CurrencyHelper.west |- CurrencyInventoryHSQLDB.east) -- (CurrencyInventoryHSQLDB.east);
\draw[ar] (CardHelper.east |- 0,730) -| (2208,538) -| (PackHelper.south);
\draw[ar] (CardHelper.east |- 0,725) -| (2198,602) -| (2052,421) -- (CardInventoryHSQLDB.east);
\draw[ar] (CardHelper.east |- 0,720) -| (2188,611) -| (2046,576.5) -- (CardSearchHSQLDB.east);
\draw[ar] (CardHelper.east |- 0,741) -| (2188,942) -| (2052,1186) -- (DeckHSQLDB.east);
\draw[ar] (BattleInfoRegistryHQSLDB.east |- 0,158) -| (1877,92) -| (HSQLDBModel.north);
\draw[ln] (RewardTransactionRegistryHSQLDB.east |- 0,246) -| (1877,158);
\draw[ln] (RegisrtyCardHQSLDB.east) -- (RegisrtyCardHQSLDB.east -| 2312,0);
\draw[ln] (TradeTransactionRegistryHSQLDB.east |- 0,181) -- (2312,181);
\draw[ln] (RegistryPackHSQLDB.east |- 0,331) -| (2048,312) -- (2312,312);
\draw[ln] (CardInventoryHSQLDB.east |- 0,401) -- (2312,401);
\draw[ln] (CardSearchHSQLDB.east |- 0,561) -- (2312,561);
\draw[ln] (PackInventoryHSQLDB.south) |- (2312,771);
\draw[ln] (CurrencyInventoryHSQLDB.north) |- (2312,851);
\draw[ln] (DeckInventoryHSQLDB.east) -- (DeckInventoryHSQLDB.east -| 2312,0);
\draw[ln] (DeckHSQLDB.east |- 0,1201) -- (2312,1201);
\draw[ln] (MarketRegistryHSQLDB.east |- 0,1321) -- (2312,1321);
\draw[ar] (TransactionRegistryHSQLDB.east |- 0,1826) -| (HSQLDBModel.south);
\draw[ar] (TradeTransactionRegistryHSQLDB.east) -| (2218,1844) -- (TransactionRegistryHSQLDB.east |- 0,1844);
\draw[ar] (OffersDatabase.south) |- (TransactionRegistryHSQLDB.east |- 0,1796);
\draw[ar] (MarketRegistryHSQLDB.east |- 0,1337) -| (2200,1809) -- (TransactionRegistryHSQLDB.east |- 0,1809);
\draw[ar] (MarketRegistryHSQLDB.east |- 0,1352) -| (2240,1934) -- (TransactionItemVisitor.east |- 0,1934);
\draw[ar] (TransactionItemVisitor.east |- 0,1915) -| (TransactionRegistryHSQLDB.south -| 2090,0);
\draw[ar] (TransactionHelper.south -| 1996,0) -- (TransactionRegistryHSQLDB.north -| 1996,0);
\draw[ar] (itemHandler.east) -- (TransactionHelper.west);
\draw[ar2] (PackCardDatabase.east) -- (Database.west);
\draw[ar] (Database.east) -- (OffersDatabase.west);
\draw[ar] (ICardComparator.west) -| (ById.north);
\draw[ar] (ICardComparator.east) -| (ByRarity.north);
\draw[ar] (ICardComparator.south) -- ++(0,22) -| (ByPlayCost.north);
\draw[ar] (ICardComparator.south) -- ++(0,22) -| (ByName.north);

% ================= DSO =================
\draw[ar] (Transaction.south) -- ++(0,27) -| (TradeTransaction.north);
\draw[ar] (Transaction.south) -- ++(0,27) -| (MarketTransaction.north);
\draw[ar] (IItem.north) -- (ItemStack.south -| IItem.north);
\draw[ar2] (IItem.east) -- (Pack.west);
\draw[ar] (IItem.east -| 1318,0) |- (Currency.west);
\draw[ar] (IItem.east -| 1318,0) |- (Card.west);
\draw[ar] (Card.south) -- ++(0,25) -| (CritterCard.north);
\draw[ar] (Card.south) -- ++(0,25) -| (ItemCard.north);
\end{tikzpicture}
\end{document}
